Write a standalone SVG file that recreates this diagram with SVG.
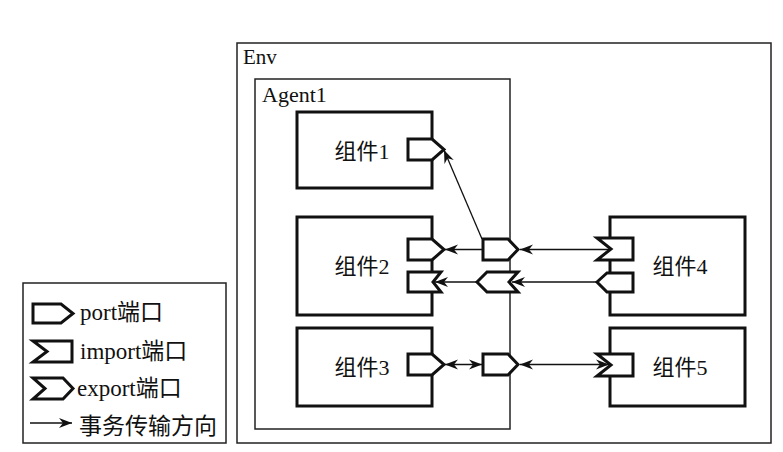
<svg xmlns="http://www.w3.org/2000/svg" width="783" height="452" viewBox="0 0 783 452">
<style>
.frame{fill:none;stroke:#222;stroke-width:1.5}
.box{fill:#fff;stroke:#111;stroke-width:3}
.port{fill:#fff;stroke:#111;stroke-width:3;stroke-linejoin:miter}
.conn{fill:none;stroke:#111;stroke-width:1.3}
text{font-family:"Liberation Serif","Noto Sans CJK SC",serif;fill:#111}
.lbl{font-size:23px}
.cn{font-size:22px;text-anchor:middle}
</style>
<defs>
<marker id="ah" viewBox="-14 -6 15 12" refX="0" refY="0" markerWidth="15" markerHeight="12" markerUnits="userSpaceOnUse" orient="auto-start-reverse">
<path d="M0,0 L-13,-5 L-9,0 L-13,5 Z" fill="#111"/>
</marker>
</defs>
<rect width="783" height="452" fill="#fff"/>
<g id="env">
<rect class="frame" x="237" y="43" width="534" height="400"/>
<text x="243" y="64" style="font-size:21px">Env</text>
</g>
<g id="agent1">
<rect class="frame" x="255" y="79" width="255" height="350"/>
<text x="262" y="102" style="font-size:22px">Agent1</text>
</g>
<g id="comp1">
<rect class="box" x="297" y="112" width="135" height="76"/>
<text class="cn" x="362" y="159">组件1</text>
<polygon class="port" points="408,139 432,139 444,149.5 432,160 408,160"/>
</g>
<g id="comp2">
<rect class="box" x="297" y="217" width="135" height="98"/>
<text class="cn" x="362" y="274">组件2</text>
<polygon class="port" points="408,239 432,239 444,249.5 432,260 408,260"/>
<polygon class="port" points="408,272 441,272 433,282 441,292 408,292"/>
</g>
<g id="comp3">
<rect class="box" x="297" y="328" width="135" height="78"/>
<text class="cn" x="362" y="375">组件3</text>
<polygon class="port" points="408,354 432,354 444,364.5 432,375 408,375"/>
</g>
<g id="comp4">
<rect class="box" x="610" y="217" width="135" height="98"/>
<text class="cn" x="680" y="274">组件4</text>
<polygon class="port" points="597,238 633,238 633,260 597,260 611,249"/>
<polygon class="port" points="597,282 607,273 633,273 633,292 607,292"/>
</g>
<g id="comp5">
<rect class="box" x="610" y="328" width="135" height="78"/>
<text class="cn" x="680" y="375">组件5</text>
<polygon class="port" points="597,354 633,354 633,376 597,376 611,365"/>
</g>
<g id="agent-ports">
<polygon class="port" points="483,239 508,239 518,249.5 508,260 483,260"/>
<polygon class="port" points="477,282 487,272 518,272 509,282 518,292 487,292"/>
<polygon class="port" points="483,354 508,354 518,364.5 508,375 483,375"/>
</g>
<g id="connectors">
<line class="conn" x1="610" y1="249.5" x2="520" y2="249.5" marker-end="url(#ah)"/>
<line class="conn" x1="483" y1="249.5" x2="445" y2="249.5" marker-end="url(#ah)"/>
<line class="conn" x1="482" y1="239" x2="444" y2="150" marker-end="url(#ah)"/>
<line class="conn" x1="597" y1="282" x2="512" y2="282" marker-end="url(#ah)"/>
<line class="conn" x1="477" y1="282" x2="435" y2="282" marker-end="url(#ah)"/>
<line class="conn" x1="445" y1="364.5" x2="482" y2="364.5" marker-start="url(#ah)" marker-end="url(#ah)"/>
<line class="conn" x1="520" y1="364.5" x2="609" y2="364.5" marker-start="url(#ah)" marker-end="url(#ah)"/>
</g>
<g id="legend">
<rect class="frame" x="23" y="283" width="203" height="160"/>
<polygon class="port" points="33,304 61,304 73,313.5 61,323 33,323"/>
<text class="lbl" x="80" y="320">port端口</text>
<polygon class="port" points="33,341 72,341 72,362 33,362 47,351.5"/>
<text class="lbl" x="80" y="359">import端口</text>
<polygon class="port" points="33,378 63,378 73,388.5 63,399 33,399 45,388.5"/>
<text class="lbl" x="77" y="396">export端口</text>
<line class="conn" x1="30" y1="423" x2="72" y2="423" marker-end="url(#ah)"/>
<text class="lbl" x="79" y="434">事务传输方向</text>
</g>
</svg>
